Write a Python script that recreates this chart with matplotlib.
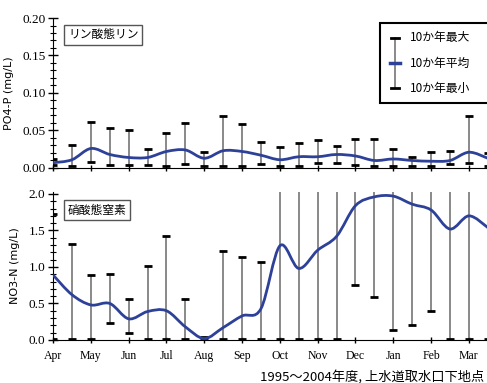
import numpy as np
import matplotlib
matplotlib.use("Agg")
import matplotlib.pyplot as plt
from matplotlib.path import Path
from matplotlib.patches import PathPatch, Rectangle
from matplotlib.lines import Line2D
from matplotlib.ticker import MultipleLocator, FormatStrFormatter

plt.rcParams['font.family'] = ['Noto Sans CJK JP', 'DejaVu Sans']

# --- data: half-monthly values, April to March ---
months = ["Apr", "May", "Jun", "Jul", "Aug", "Sep", "Oct", "Nov", "Dec", "Jan", "Feb", "Mar"]
x = np.arange(24) * 0.5

po4_mean = [0.007, 0.011, 0.026, 0.018, 0.014, 0.014, 0.022, 0.024, 0.013, 0.023, 0.022, 0.017,
            0.011, 0.015, 0.015, 0.018, 0.016, 0.010, 0.012, 0.010, 0.009, 0.010, 0.021, 0.013]
po4_max = [0.012, 0.031, 0.061, 0.053, 0.051, 0.025, 0.047, 0.060, 0.021, 0.069, 0.059, 0.034,
           0.028, 0.033, 0.037, 0.029, 0.039, 0.039, 0.025, 0.014, 0.021, 0.023, 0.069, 0.020]
po4_min = [0.004, 0.002, 0.008, 0.004, 0.004, 0.004, 0.003, 0.005, 0.002, 0.002, 0.002, 0.005,
           0.003, 0.003, 0.006, 0.006, 0.004, 0.002, 0.003, 0.003, 0.003, 0.005, 0.007, 0.003]

no3_mean = [0.89, 0.62, 0.48, 0.50, 0.29, 0.39, 0.40, 0.18, 0.02, 0.17, 0.33, 0.43,
            1.29, 0.98, 1.23, 1.42, 1.84, 1.96, 1.97, 1.86, 1.78, 1.52, 1.70, 1.54]
no3_max = [1.72, 1.32, 0.89, 0.90, 0.56, 1.02, 1.42, 0.56, 0.04, 1.22, 1.13, 1.07,
           2.5, 2.3, 2.6, 2.4, 2.7, 2.6, 2.5, 2.8, 2.6, 2.4, 2.5, 2.3]
no3_min = [0.02, 0.02, 0.02, 0.23, 0.10, 0.02, 0.02, 0.02, 0.00, 0.02, 0.02, 0.02,
           0.02, 0.02, 0.02, 0.02, 0.75, 0.59, 0.14, 0.20, 0.40, 0.02, 0.02, 0.02]

LINE_BLUE = "#2e4199"
SERIF = "Liberation Serif"


def smooth_path(xs, ys):
    """Catmull-Rom curve through the points, as cubic bezier segments"""
    pts = np.column_stack([xs, ys])
    verts = [pts[0]]
    codes = [Path.MOVETO]
    n = len(pts)
    for i in range(n - 1):
        p0 = pts[max(i - 1, 0)]
        p1 = pts[i]
        p2 = pts[i + 1]
        p3 = pts[min(i + 2, n - 1)]
        verts += [p1 + (p2 - p0) / 6, p2 - (p3 - p1) / 6, p2]
        codes += [Path.CURVE4] * 3
    return Path(verts, codes)


def draw_panel(ax, mean, vmax, vmin):
    mean = np.array(mean)
    err = [mean - np.array(vmin), np.array(vmax) - mean]
    _, caps, _ = ax.errorbar(x, mean, yerr=err, fmt='none', ecolor='#808080',
                             elinewidth=1.3, capsize=3, capthick=2, zorder=2)
    for c in caps:
        c.set_markeredgecolor('black')
        c.set_markerfacecolor('black')
    ax.add_patch(PathPatch(smooth_path(x, mean), facecolor='none',
                           edgecolor=LINE_BLUE, lw=2, zorder=3))
    ax.set_xlim(0, 11.6)
    ax.set_xticks(np.arange(12))
    for s in ['top', 'right']:
        ax.spines[s].set_visible(False)
    ax.tick_params(axis='y', which='major', direction='inout', length=7, width=1, pad=2,
                   labelsize=9.5)
    ax.tick_params(axis='y', which='minor', direction='inout', length=4, width=0.8)
    ax.tick_params(axis='x', which='major', direction='inout', length=5, width=1)


fig = plt.figure(figsize=(4.87, 3.83), dpi=100)

# --- upper: phosphate ---
ax1 = fig.add_axes([0.109, 0.5614, 0.9004, 0.3916])
draw_panel(ax1, po4_mean, po4_max, po4_min)
ax1.set_ylim(0, 0.2)
ax1.yaxis.set_major_locator(MultipleLocator(0.05))
ax1.yaxis.set_minor_locator(MultipleLocator(0.01))
ax1.yaxis.set_major_formatter(FormatStrFormatter('%.2f'))
ax1.set_xticklabels([])
for lab in ax1.get_yticklabels():
    lab.set_family(SERIF)
ax1.set_ylabel("PO4-P (mg/L)", fontsize=8, family='DejaVu Sans', labelpad=6)
ax1.text(0.034, 0.887, "リン酸態リン", transform=ax1.transAxes, fontsize=8.5, va='center',
         bbox=dict(boxstyle='square,pad=0.3', facecolor='white', edgecolor='#555555', lw=1))

# --- lower: nitrate ---
ax2 = fig.add_axes([0.109, 0.1123, 0.9004, 0.387])
draw_panel(ax2, no3_mean, no3_max, no3_min)
ax2.set_ylim(0, 2.03)
ax2.yaxis.set_major_locator(MultipleLocator(0.5))
ax2.yaxis.set_minor_locator(MultipleLocator(0.1))
ax2.yaxis.set_major_formatter(FormatStrFormatter('%.1f'))
ax2.set_xticklabels(months, family=SERIF, fontsize=8.5)
ax2.tick_params(axis='x', pad=5)
for lab in ax2.get_yticklabels():
    lab.set_family(SERIF)
ax2.set_ylabel("NO3-N (mg/L)", fontsize=8, family='DejaVu Sans', labelpad=6)
ax2.text(0.034, 0.877, "硝酸態窒素", transform=ax2.transAxes, fontsize=8.5, va='center',
         bbox=dict(boxstyle='square,pad=0.3', facecolor='white', edgecolor='#555555', lw=1))

# --- legend (hand drawn, figure coords) ---
fig.patches.append(Rectangle((0.780, 0.731), 0.226, 0.209, transform=fig.transFigure,
                             facecolor='white', edgecolor='black', lw=1.5, zorder=5))
gx = 0.811
y_top, y_mid, y_bot = 0.901, 0.8355, 0.770
fig.lines.append(Line2D([gx, gx], [y_bot, y_top], transform=fig.transFigure,
                        color='#808080', lw=1.3, zorder=6))
for yy in [y_top, y_bot]:
    fig.lines.append(Line2D([gx - 0.0075, gx + 0.0075], [yy, yy], transform=fig.transFigure,
                            color='black', lw=2, zorder=7))
fig.lines.append(Line2D([gx - 0.011, gx + 0.011], [y_mid, y_mid], transform=fig.transFigure,
                        color=LINE_BLUE, lw=2.5, zorder=7))
for yy, txt in zip([y_top, y_mid, y_bot], ["10か年最大", "10か年平均", "10か年最小"]):
    fig.text(0.842, yy, txt, fontsize=8.5, va='center', ha='left', zorder=8)

# --- caption ---
fig.text(0.995, 0.016, "1995～2004年度, 上水道取水口下地点", fontsize=9.5, ha='right', va='center')

fig.savefig("out.png", dpi=100, facecolor='white')
